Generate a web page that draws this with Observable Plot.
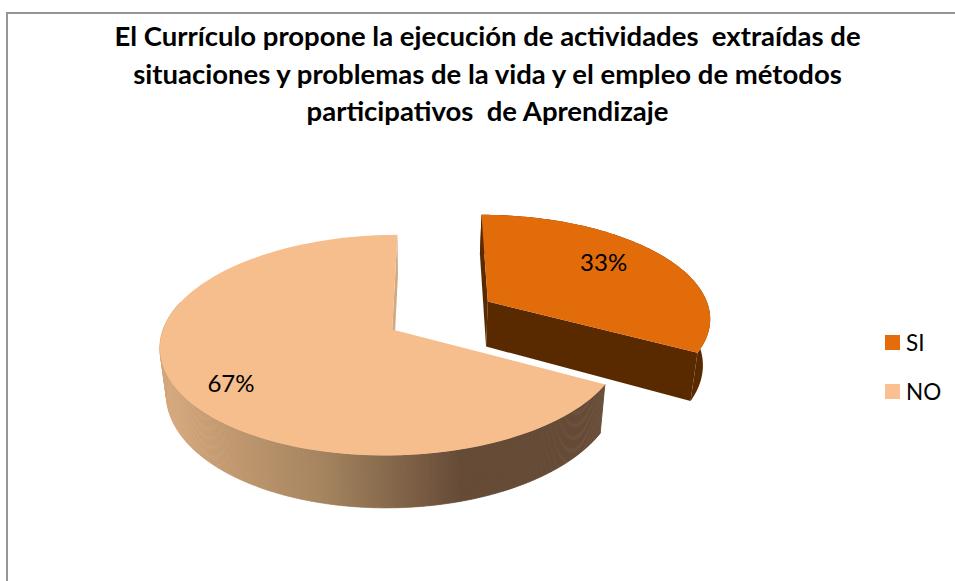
<!DOCTYPE html>
<html>
<head>
<meta charset="utf-8">
<script src="https://cdn.jsdelivr.net/npm/d3@7"></script>
<script src="https://cdn.jsdelivr.net/npm/@observablehq/plot@0.6"></script>
<style>
  html, body { margin: 0; padding: 0; background: #fff; }
  #chart { position: relative; width: 955px; height: 581px; overflow: hidden; font-family: Lato, sans-serif; }
  #frame { position: absolute; left: 6px; top: 12px; width: 1000px; height: 700px; border-top: 2px solid #969696; border-left: 2px solid #969696; }
  #title { position: absolute; left: 0; top: 17px; width: 975px; text-align: center; font-weight: 700; font-size: 27.5px; line-height: 37.5px; white-space: pre; color: #000; }
  #plot { position: absolute; left: 0; top: 130px; }
  #legend { position: absolute; left: 885px; top: 325px; font-size: 22.5px; color: #000; }
  .row { display: flex; align-items: center; height: 35px; margin-bottom: 14px; }
  .sw { width: 15px; height: 15px; margin-right: 6px; }
</style>
</head>
<body>
<div id="chart">
  <div id="frame"></div>
  <div id="title"></div>
  <div id="plot"></div>
  <div id="legend"></div>
</div>
<script>
const titleLines = [
  "El Currículo propone la ejecución de actividades  extraídas de",
  "situaciones y problemas de la vida y el empleo de métodos",
  "participativos  de Aprendizaje"
];
const categories = ["SI", "NO"];
const shares = [33, 67];
const faceColors = ["#E26B0A", "#F7BE8D"];
const legendColors = ["#E46C0A", "#FAC090"];
const wallStops = [[166, "#d4a67b"], [320, "#a58560"], [460, "#664b37"]];

document.getElementById("title").textContent = titleLines.join("\n");
document.getElementById("legend").innerHTML = categories.map((c, i) =>
  `<div class="row"><div class="sw" style="background:${legendColors[i]}"></div><span>${c}</span></div>`).join("");

// Perspective projection of a circular pie disc onto the page
const VANISH_X = 418, SHRINK = 0.975, P = 0.1418, DEPTH = 45;
const siDisc = {xc: 487.3, yc: 301, A: 219, B: 99, S: 7.2};
const noDisc = {xc: 391.7, yc: 329, A: 229, B: 108.1, S: -6};
const rad = d => d * Math.PI / 180;
function upper(disc, deg, f = 1) {
  const s = Math.sin(rad(deg)) * f, c = -Math.cos(rad(deg)) * f, w = 1 - P * c;
  return {x: disc.xc + (disc.A * s + disc.S * c) / w, y: disc.yc + disc.B * c / w, w};
}
function lower(disc, deg, f = 1) {
  const t = upper(disc, deg, f);
  return {x: VANISH_X + (t.x - VANISH_X) * SHRINK, y: t.y + DEPTH / t.w};
}
const arc = (from, to, fn) => d3.range(0, 121).map(i => fn(from + (to - from) * i / 120));

// Shares to angles, clockwise from the top of the disc
const toDeg = v => v * 3.6;
const siSpan = [0, toDeg(shares[0])];
const noSpan = [siSpan[1] - 0.5, 360];

const siFace = [upper(siDisc, 0, 0), ...arc(siSpan[0], siSpan[1], d => upper(siDisc, d))];
const noFace = [upper(noDisc, 0, 0), ...arc(noSpan[0], noSpan[1], d => upper(noDisc, d))];

const quad = (disc, d) => [upper(disc, d, 0), upper(disc, d), lower(disc, d), lower(disc, d, 0)];
const rimBand = (disc, from, to) => [...arc(from, to, d => upper(disc, d)), ...arc(to, from, d => lower(disc, d))];

const wallColor = d3.scaleLinear().domain(wallStops.map(s => s[0])).range(wallStops.map(s => s[1])).clamp(true);
const noRim = d3.range(noSpan[0], 285, 0.4).flatMap((d, i) => {
  const a = upper(noDisc, d), b = upper(noDisc, d + 0.6), c = lower(noDisc, d + 0.6), e = lower(noDisc, d);
  const color = wallColor((a.x + b.x) / 2);
  return [a, b, c, e].map(p => ({...p, seg: i, color}));
});

const label = (disc, deg, f, text) => ({...upper(disc, deg, f), text});
const labels = [
  label(siDisc, siSpan[1] / 2 - 5, 0.705, shares[0] + "%"),
  label(noDisc, (noSpan[0] + noSpan[1]) / 2 - 5.5, 0.80, shares[1] + "%")
];

const DARK = "#592A00", SLIVER = "#d2aa82";
const shape = (pts, fill) => Plot.line(pts, {x: "x", y: "y", fill, stroke: null});

document.getElementById("plot").append(Plot.plot({
  width: 955, height: 451,
  marginTop: 0, marginRight: 0, marginBottom: 0, marginLeft: 0,
  x: {domain: [0, 955], range: [0, 955], axis: null},
  y: {domain: [130, 581], range: [0, 451], axis: null},
  style: {background: "none", fontFamily: "Lato, sans-serif"},
  marks: [
    shape(quad(siDisc, siSpan[0]), DARK),
    shape(quad(siDisc, siSpan[1]), DARK),
    shape(rimBand(siDisc, siSpan[0], siSpan[1]), DARK),
    shape(siFace, faceColors[0]),
    shape(quad(noDisc, noSpan[1]), SLIVER),
    Plot.line(noRim, {x: "x", y: "y", z: "seg", fill: "color", stroke: "color", strokeWidth: 0.4}),
    shape(noFace, faceColors[1]),
    Plot.text(labels, {x: "x", y: "y", text: "text", fontSize: 24, fill: "#000"})
  ]
}));
</script>
</body>
</html>
